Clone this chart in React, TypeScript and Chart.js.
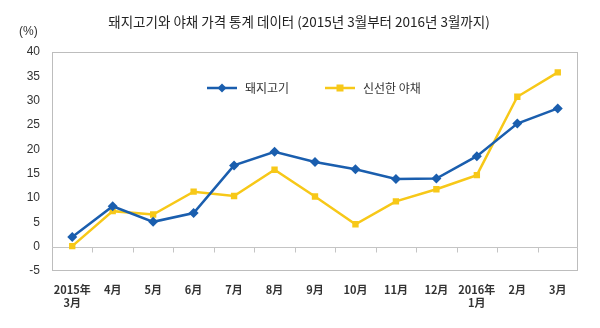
import React, { useEffect, useRef } from "react";
import { Chart, registerables } from "chart.js";

Chart.register(...registerables);

const titleText = "돼지고기와 야채 가격 통계 데이터 (2015년 3월부터 2016년 3월까지)";
const unitLabel = "(%)";
const categories: (string | string[])[] = [
  ["2015年", "3月"], "4月", "5月", "6月", "7月", "8月", "9月", "10月", "11月", "12月", ["2016年", "1月"], "2月", "3月",
];
const porkName = "돼지고기";
const vegName = "신선한 야채";
const porkValues = [2.0, 8.3, 5.1, 6.9, 16.7, 19.5, 17.4, 15.9, 13.9, 14.0, 18.6, 25.3, 28.4];
const vegValues = [0.1, 7.3, 6.6, 11.3, 10.4, 15.8, 10.3, 4.6, 9.3, 11.8, 14.7, 30.8, 35.8];
const yMin = -5;
const yMax = 40;
const yStep = 5;

const BLUE = "#1A5EAE";
const YELLOW = "#F7C818";
const FONT = "'Noto Sans CJK KR', 'Liberation Sans', sans-serif";

const framePlugin = {
  id: "frame",
  beforeDatasetsDraw(chart: any) {
    const { ctx, chartArea } = chart;
    const x = chart.scales.x;
    const y = chart.scales.y;
    ctx.save();
    // title
    ctx.fillStyle = "#222";
    ctx.font = `13.5px ${FONT}`;
    ctx.textAlign = "center";
    ctx.textBaseline = "middle";
    ctx.fillText(titleText, 299, 22);
    // box
    ctx.strokeStyle = "#BDBDBD";
    ctx.lineWidth = 1;
    ctx.strokeRect(chartArea.left + 0.5, chartArea.top + 0.5, chartArea.right - chartArea.left - 1, chartArea.bottom - chartArea.top - 1);
    // zero line
    const y0 = Math.round(y.getPixelForValue(0)) + 0.5;
    ctx.strokeStyle = "#C4C4C4";
    ctx.beginPath();
    ctx.moveTo(chartArea.left, y0);
    ctx.lineTo(chartArea.right, y0);
    const n = categories.length;
    for (let i = 1; i < n; i++) {
      const px = Math.round((x.getPixelForValue(i - 1) + x.getPixelForValue(i)) / 2) + 0.5;
      ctx.moveTo(px, y0);
      ctx.lineTo(px, y0 + 5);
    }
    ctx.stroke();
    // unit label
    ctx.fillStyle = "#333";
    ctx.font = `12px 'Liberation Sans', sans-serif`;
    ctx.textAlign = "left";
    ctx.textBaseline = "middle";
    ctx.fillText(unitLabel, 19, 32);
    ctx.restore();
  },
  afterDatasetsDraw(chart: any) {
    const { ctx, chartArea } = chart;
    const ly = chartArea.top + 36;
    const items = [
      { x: chartArea.left + 155, color: BLUE, style: "diamond", label: porkName },
      { x: chartArea.left + 273, color: YELLOW, style: "square", label: vegName },
    ];
    ctx.save();
    for (const it of items) {
      ctx.strokeStyle = it.color;
      ctx.lineWidth = 2.5;
      ctx.beginPath();
      ctx.moveTo(it.x, ly);
      ctx.lineTo(it.x + 30, ly);
      ctx.stroke();
      ctx.fillStyle = it.color;
      const cx = it.x + 15;
      if (it.style === "diamond") {
        ctx.beginPath();
        ctx.moveTo(cx, ly - 4.5);
        ctx.lineTo(cx + 4.5, ly);
        ctx.lineTo(cx, ly + 4.5);
        ctx.lineTo(cx - 4.5, ly);
        ctx.closePath();
        ctx.fill();
      } else {
        ctx.fillRect(cx - 3.5, ly - 3.5, 7, 7);
      }
      ctx.fillStyle = "#333";
      ctx.font = `12px ${FONT}`;
      ctx.textAlign = "left";
      ctx.textBaseline = "middle";
      ctx.fillText(it.label, it.x + 38, ly);
    }
    ctx.restore();
  },
};

export default function App() {
  const ref = useRef<HTMLCanvasElement | null>(null);
  useEffect(() => {
    if (!ref.current) return;
    const chart = new Chart(ref.current, {
      type: "line",
      data: {
        labels: categories,
        datasets: [
          {
            label: porkName,
            data: porkValues,
            borderColor: BLUE,
            backgroundColor: BLUE,
            borderWidth: 2.5,
            pointStyle: "rectRot",
            pointRadius: 5,
            pointBorderWidth: 0,
            tension: 0,
          },
          {
            label: vegName,
            data: vegValues,
            borderColor: YELLOW,
            backgroundColor: YELLOW,
            borderWidth: 2.5,
            pointStyle: "rect",
            pointRadius: 4.5,
            pointBorderWidth: 0,
            tension: 0,
          },
        ],
      },
      options: {
        responsive: false,
        animation: false,
        layout: { padding: { top: 52, left: 0, right: 22, bottom: 0 } },
        plugins: {
          legend: { display: false },
          tooltip: { enabled: false },
          title: { display: false },
        },
        scales: {
          x: {
            type: "category",
            offset: true,
            grid: { display: false, drawTicks: false },
            border: { display: false },
            ticks: {
              color: "#333",
              font: { family: FONT, size: 11, weight: "bold" },
              padding: 12,
              maxRotation: 0,
              autoSkip: false,
            },
            afterFit(scale: any) {
              scale.height = 57;
            },
          },
          y: {
            min: yMin,
            max: yMax,
            grid: { display: false, drawTicks: false },
            border: { display: false },
            ticks: {
              stepSize: yStep,
              color: "#333",
              font: { family: "'Liberation Sans', sans-serif", size: 12 },
              padding: 12,
            },
            afterFit(scale: any) {
              scale.width = 52;
            },
          },
        },
      },
      plugins: [framePlugin],
    });
    return () => chart.destroy();
  }, []);
  return (
    <div style={{ position: "fixed", left: 0, top: 0, width: 600, height: 328, background: "#fff" }}>
      <canvas ref={ref} width={600} height={328} />
    </div>
  );
}
